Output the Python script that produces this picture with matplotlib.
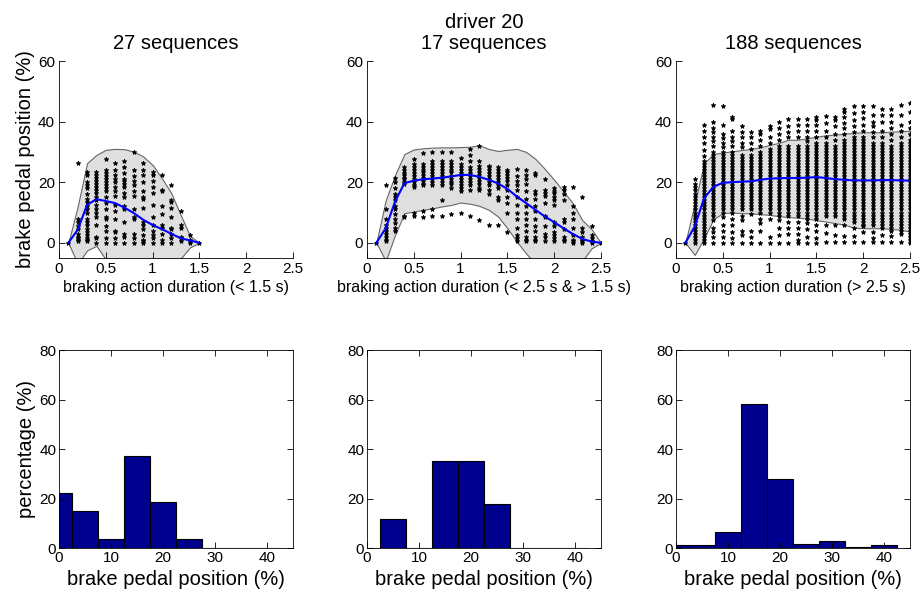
import matplotlib
matplotlib.use("Agg")
import matplotlib.pyplot as plt

plt.rcParams['font.family'] = ['Liberation Sans', 'DejaVu Sans']

# time axis (s) for the three duration classes
t_short = [0.1, 0.2, 0.3, 0.4, 0.5, 0.6, 0.7, 0.8, 0.9, 1.0, 1.1, 1.2, 1.3, 1.4, 1.5]
t_long = [0.1, 0.2, 0.3, 0.4, 0.5, 0.6, 0.7, 0.8, 0.9, 1.0, 1.1, 1.2, 1.3,
          1.4, 1.5, 1.6, 1.7, 1.8, 1.9, 2.0, 2.1, 2.2, 2.3, 2.4, 2.5]

titles = ["27 sequences", "driver 20\n17 sequences", "188 sequences"]
xlabels = ["braking action duration (< 1.5 s)",
           "braking action duration (< 2.5 s & > 1.5 s)",
           "braking action duration (> 2.5 s)"]

# mean curve and band (upper / lower) per class
mean1 = [0, 4.3, 12.5, 14.4, 13.8, 13.1, 11.6, 9.8, 7.6, 5.9, 4.5, 3, 1.5, 0.8, 0]
up1 = [0, 12, 26.3, 29, 30.7, 31, 30.9, 30.1, 28.5, 25.7, 21.3, 16.4, 9.2, 2.3, 0]
lo1 = [0, -7, -2.5, -1, -5.5, -12, -15, -16, -16, -15, -13, -10, -5.2, -1.5, 0]

mean2 = [0, 4.8, 13.6, 19.7, 20.5, 21, 21.2, 21.5, 21.9, 22.4, 22.4, 21.8, 20.8,
         19.6, 17.8, 15.3, 13.1, 10.9, 8.7, 6.8, 4.8, 2.9, 1.3, 0.4, 0]
up2 = [0, 14, 22.4, 29.3, 30.8, 31.2, 31.4, 31.5, 31.5, 31.6, 31.7, 32.2, 31,
       30.3, 30.7, 31, 30, 27.7, 24.4, 20.8, 17, 13, 7.5, 4.5, 0]
lo2 = [0, -6, 2.6, 9.8, 10.3, 10.9, 11.4, 12, 12.5, 13.3, 12.9, 12.2, 10.9,
       8.7, 4.8, 0.4, -3.5, -7, -9, -10, -10, -9, -6, -1.8, 0]

mean3 = [0, 5.4, 14.7, 18.5, 19.8, 20, 20.2, 20.3, 20.8, 21.2, 21.3, 21.4, 21.4,
         21.5, 21.7, 21.4, 21, 20.8, 20.6, 20.6, 20.6, 20.7, 20.7, 20.6, 20.5]
up3 = [0, 13, 26.3, 29.3, 29.8, 30.2, 30.6, 31, 31.5, 32.3, 33, 34, 34, 34.5,
       35, 35.5, 35.7, 36, 36.3, 36.5, 36.5, 36.5, 36.7, 36.8, 37]
lo3 = [0, -4, 1.5, 7.8, 9.8, 10, 9.8, 9.7, 9.5, 9.2, 8.8, 8.5, 8.3, 8, 7.5, 7,
       6.5, 6, 5, 4.8, 4.8, 4.8, 4.6, 4.3, 3.7]

# brake pedal samples per time step (%)
pts1 = [
    [0],
    [26.5, 8, 7, 5.5, 4.5, 3, 2, 1.5, 1, 0.5],
    [23.5, 22.5, 20, 19, 18, 16, 14.5, 13.5, 12, 11, 10, 8, 7, 6, 4.5, 3.5, 2.5, 1.5, 1, 0.5],
    [23.5, 22.5, 21.5, 20.5, 19.5, 18.5, 17.5, 16.5, 15, 14, 12.5, 11, 10, 8.5, 6, 2, 1.5, 0],
    [27.5, 24, 23, 22, 21, 20, 19, 18, 17, 15, 13, 11, 8.5, 8, 5.5, 4, 1.5, 0],
    [26.5, 24, 22.5, 21, 20, 18.5, 17, 15.5, 12.5, 10.5, 8, 4, 3.5, 1.5, 0],
    [27, 25, 23, 21, 20.5, 19.5, 18.5, 16.5, 15, 12, 11, 7, 3, 2, 0],
    [30, 24, 22, 20.5, 19, 17, 15.5, 11, 8.5, 8, 3, 1.5, 0],
    [26.5, 24, 22.5, 20, 17, 15, 14.5, 11.5, 7, 6, 4.5, 2.5, 1, 0.5, 0],
    [23.5, 22.5, 20.5, 18.5, 16.5, 12.5, 8.5, 6, 4, 2.5, 1.5, 0],
    [22.5, 17.5, 17, 12, 9.5, 6, 5, 3, 1, 0],
    [19, 14, 13.5, 11.5, 8.5, 5, 4.5, 3, 1.5, 0],
    [10.5, 6, 5, 2, 1.5, 0.5],
    [2.5, 1, 0.5, 0],
    [0],
]

pts2 = [
    [0],
    [19, 11, 8, 6, 5, 4, 3, 2, 1, 0.5],
    [21.5, 20, 18, 16, 15, 14, 12, 11, 9.5, 8, 6.5, 5, 4],
    [25, 24, 23, 22.5, 21.5, 21, 20, 19.5, 9, 8.5],
    [27.5, 26, 25, 24, 23, 22, 21, 20, 19, 18.5, 10, 9],
    [29.5, 26, 25, 24, 23.5, 22.5, 21.5, 20.5, 19.5, 19, 10.5, 8.5],
    [30, 27, 26, 25, 24, 23, 22, 21, 20, 19, 11, 9],
    [30, 27, 26, 25, 24, 23, 22, 21, 20, 19, 14, 9],
    [30, 27, 26, 25, 24, 23.5, 22, 21, 20, 19.5, 18, 9.5],
    [28, 26, 25, 24, 23, 22, 21, 20, 19, 18, 17, 10],
    [31, 29, 27, 25, 24, 23, 22, 21, 20, 19, 17.5, 9],
    [32, 27, 25.5, 24.5, 23.5, 22.5, 21.5, 20.5, 19.5, 18, 17.5, 7.5],
    [25.5, 25, 24, 23, 22, 21, 20, 19, 17.5, 16, 6],
    [25, 24, 23, 22, 21, 20, 19, 18, 15, 14, 6],
    [24, 23.5, 22.5, 21.5, 20.5, 19, 17.5, 15, 13, 10, 3.5],
    [24.5, 22, 20.5, 19, 17.5, 15, 12.5, 10, 8, 5, 2.5, 1.5, 0.5],
    [24, 22.5, 21, 19.5, 17, 14.5, 12, 10, 8, 6, 4, 2, 1, 0.5],
    [23, 22.5, 17, 16, 14.5, 12, 10.5, 8, 5.5, 4, 2, 1, 0.5],
    [21, 17.5, 16.5, 15.5, 13, 9, 8.5, 5.5, 3, 2, 0.5],
    [18, 17, 16.5, 15, 14, 12.5, 7, 5.5, 3.5, 2.5, 1.5, 0.5],
    [18.5, 17.5, 16, 14, 8, 7, 4.5, 2, 1, 0.5],
    [18.5, 12, 10, 8, 5, 2.5, 1, 0.5, 0],
    [15, 5, 3.5, 2, 1, 0.5, 0],
    [5.5, 2.5, 1.5, 0.5, 0],
    [0],
]

pts3 = [
    [0],
    [0, 1, 2, 3, 4, 5, 6, 7, 8, 9, 10, 11, 12, 13, 14, 15, 16, 17.5, 18.5, 19.5, 21],
    [0, 1, 2, 3, 4, 5, 6, 7, 8, 9, 10, 11, 12, 13, 14, 15, 16, 17, 18, 19, 20, 21, 22, 23,
     24, 25, 26, 27, 28.5, 30.5, 33, 35, 37, 39],
    [0, 2, 3.5, 5, 7.5, 9, 10, 11, 12, 13, 14, 15, 16, 17, 18, 19, 20, 21, 22, 23, 24, 25,
     26, 27, 28, 29, 30, 32, 33.5, 35, 36.5, 38, 40, 45.5],
    [0, 2, 4, 6, 8.5, 10, 11, 12, 13, 14, 15, 16, 17, 18, 19, 20, 21, 22, 23, 24, 25, 26,
     27, 28, 29, 30, 31.5, 33, 34.5, 36, 39, 45],
    [0, 1.5, 3.5, 6, 8, 10, 11, 12, 13, 14, 15, 16, 17, 18, 19, 20, 21, 22, 23, 24, 25, 26,
     27, 28, 29, 30, 32, 33.5, 35, 37, 41, 41.5],
    [0, 2.5, 4, 7.5, 9, 11, 12, 13, 14, 15, 16, 17, 18, 19, 20, 21, 22, 23, 24, 25, 26, 27,
     28, 29, 31.5, 33, 35, 36.5, 38.5],
    [0, 2, 4, 9.5, 11, 12, 13, 14, 15, 16, 17, 18, 19, 20, 21, 22, 23, 24, 25, 26, 27, 28,
     29, 31, 33, 35, 36.5],
    [0, 4, 6.5, 8, 10, 11, 12, 13, 14, 15, 16, 17, 18, 19, 20, 21, 22, 23, 24, 25, 26, 27,
     28, 29, 30, 32, 34, 36, 37],
    [0, 2, 8, 10, 11, 12, 13, 14, 15, 16, 17, 18, 19, 20, 21, 22, 23, 24, 25, 26, 27, 28,
     29, 30, 31, 33, 35, 37.5, 38.5],
    [0, 2.5, 5, 7.5, 9, 10, 11, 12, 13, 14, 15, 16, 17, 18, 19, 20, 21, 22, 23, 24, 25, 26,
     27, 28, 29, 30, 31, 32, 34, 36, 38, 40],
    [0, 3, 5, 7, 9, 10, 11, 12, 13, 14, 15, 16, 17, 18, 19, 20, 21, 22, 23, 24, 25, 26, 27,
     28, 29, 30, 31, 32, 35, 36.5, 38.5, 41],
    [0, 1, 3, 5, 7, 9, 10, 11, 12, 13, 14, 15, 16, 17, 18, 19, 20, 21, 22, 23, 24, 25, 26,
     27, 28, 29, 30, 31, 32, 35, 37, 39, 41],
    [0, 2, 4.5, 6.5, 8, 9, 10, 11, 12, 13, 14, 15, 16, 17, 18, 19, 20, 21, 22, 23, 24, 25,
     26, 27, 28, 29, 30, 31, 32, 33.5, 35, 37, 39, 41],
    [0, 1.5, 4, 6, 8, 9, 10, 11, 12, 13, 14, 15, 16, 17, 18, 19, 20, 21, 22, 23, 24, 25, 26,
     27, 28, 29, 30, 31, 32, 33, 35, 37, 39, 40.5, 41.5],
    [0.4, 3.2, 5.9, 8.7, 10, 11, 12, 13, 14, 15, 16, 17, 18, 19, 20, 21, 22, 23, 24, 25, 26,
     27, 28, 29, 30, 31, 32, 33, 35, 37, 39.5, 42],
    [0.4, 2.6, 5.9, 9, 10, 11, 12, 13, 14, 15, 16, 17, 18, 19, 20, 21, 22, 23, 24, 25, 26,
     27, 28, 29, 30, 31, 32, 34, 36, 38.4, 40.5, 41.6],
    [0.4, 2.1, 5.9, 8, 9, 10, 11, 12, 13, 14, 15, 16, 17, 18, 19, 20, 21, 22, 23, 24, 25, 26,
     27, 28, 29, 30, 31, 32, 33, 34, 36, 37.8, 39.5, 41.6, 43.3, 44.2],
    [0.4, 2.1, 4.8, 7, 8, 9, 10, 11, 12, 13, 14, 15, 16, 17, 18, 19, 20, 21, 22, 23, 24, 25,
     26, 27, 28, 29, 30, 31, 32, 33, 34, 35, 36.5, 38.4, 40.5, 42.7, 45.3],
    [0.4, 3.7, 5.5, 6, 7, 8, 9, 10, 11, 12, 13, 14, 15, 16, 17, 18, 19, 20, 21, 22, 23, 24,
     25, 26, 27, 28, 29, 30, 31, 32, 33, 34, 35, 37, 38.9, 41.1, 43.3, 45.3],
    [0.4, 1.5, 3.7, 6, 7, 8, 9, 10, 11, 12, 13, 14, 15, 16, 17, 18, 19, 20, 21, 22, 23, 24,
     25, 26, 27, 28, 29, 30, 31, 32, 33, 35, 36.5, 38.4, 40, 42.2, 45],
    [0.4, 2.6, 5, 6, 7, 8, 9, 10, 11, 12, 13, 14, 15, 16, 17, 18, 19, 20, 21, 22, 23, 24,
     25, 26, 27, 28, 29, 30, 31, 32, 33, 35, 37, 40, 42.2, 44],
    [0.4, 2.1, 4, 5, 6, 7, 8, 9, 10, 11, 12, 13, 14, 15, 16, 17, 18, 19, 20, 21, 22, 23, 24,
     25, 26, 27, 28, 29, 30, 31, 32, 34, 36, 38, 40, 42.2, 44],
    [0.4, 3, 4, 5, 6, 7, 8, 9, 10, 11, 12, 13, 14, 15, 16, 17, 18, 19, 20, 21, 22, 23, 24,
     25, 26, 27, 28, 29, 30, 31, 32, 33, 35, 37, 39, 42.2, 45.5],
    [0, 1, 2, 3, 4, 5, 6, 7, 8, 9, 10, 11, 12, 13, 14, 15, 16, 17, 18, 19, 20, 21, 22, 23,
     24, 25, 26, 27, 28, 29, 30, 31, 32, 33, 34, 36, 38, 40, 43.3, 46],
]

# histograms of brake pedal position (bin centres, % of sequences)
bin_centres = [0, 5, 10, 15, 20, 25, 30, 35, 40]
hist1 = [22.2, 14.8, 3.7, 37.0, 18.5, 3.7, 0, 0, 0]
hist2 = [0, 11.8, 0, 35.3, 35.3, 17.6, 0, 0, 0]
hist3 = [1.1, 1.1, 6.4, 58.0, 27.7, 1.6, 2.7, 0.5, 1.1]

fig = plt.figure(figsize=(9.23, 5.94), dpi=100)

lefts = [0.0639, 0.3976, 0.7324]
w = 0.2535
times = [t_short, t_long, t_long]
means = [mean1, mean2, mean3]
ups = [up1, up2, up3]
los = [lo1, lo2, lo3]
pts = [pts1, pts2, pts3]
hists = [hist1, hist2, hist3]

for i in range(3):
    # top row: samples, mean and band
    ax = fig.add_axes([lefts[i], 0.5657, w, 0.3316])
    t = times[i]
    ax.fill_between(t, los[i], ups[i], facecolor=(0.875, 0.875, 0.875),
                    edgecolor=(0.4, 0.4, 0.4), linewidth=0.8, zorder=1)
    xs, ys = [], []
    for k in range(len(t)):
        for v in pts[i][k]:
            xs.append(t[k])
            ys.append(v)
    ax.plot(xs, ys, '*', color='black', markersize=3.4, markeredgewidth=0.6, zorder=2)
    ax.plot(t, means[i], color=(0, 0, 1), linewidth=1.5, zorder=3)
    ax.set_xlim(0, 2.5)
    ax.set_ylim(-5, 60)
    ax.set_xticks([0, 0.5, 1, 1.5, 2, 2.5])
    ax.set_xticklabels(["0", "0.5", "1", "1.5", "2", "2.5"])
    ax.set_yticks([0, 20, 40, 60])
    ax.spines['top'].set_visible(False)
    ax.spines['right'].set_visible(False)
    ax.tick_params(direction='in', length=4, labelsize=11, pad=3, width=0.6)
    for s in ax.spines.values():
        s.set_linewidth(0.6)
    ax.set_xlabel(xlabels[i], fontsize=11.5, labelpad=3)
    ax.set_title(titles[i], fontsize=14.5, pad=9, linespacing=1.1)
    if i == 0:
        ax.set_ylabel("brake pedal position (%)", fontsize=14.5, labelpad=2)

    # bottom row: histograms
    hx = fig.add_axes([lefts[i], 0.0774, w, 0.3333])
    hx.bar(bin_centres, hists[i], width=5, color=(0, 0, 0.5625),
           edgecolor='black', linewidth=0.8)
    hx.set_xlim(0, 45)
    hx.set_ylim(0, 80)
    hx.set_xticks([0, 10, 20, 30, 40])
    hx.set_yticks([0, 20, 40, 60, 80])
    hx.tick_params(direction='in', length=4, labelsize=11, pad=2, width=0.6,
                   top=True, right=True)
    for s in hx.spines.values():
        s.set_linewidth(0.6)
    hx.set_xlabel("brake pedal position (%)", fontsize=14.5, labelpad=4)
    if i == 0:
        hx.set_ylabel("percentage (%)", fontsize=14.5, labelpad=2)

fig.savefig("out.png", dpi=100)
